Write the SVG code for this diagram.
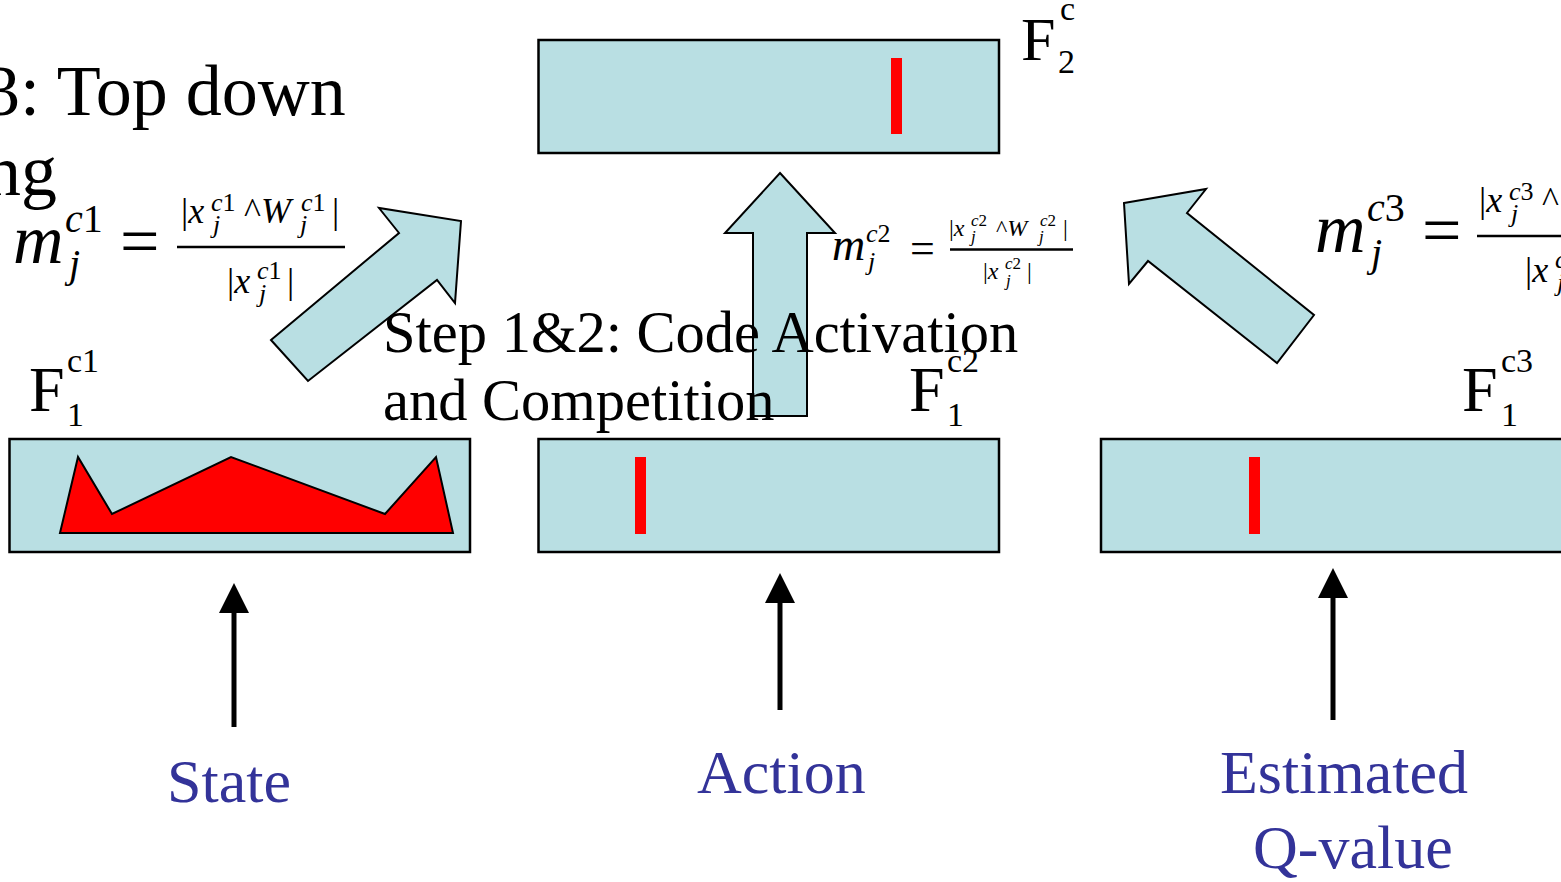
<svg xmlns="http://www.w3.org/2000/svg" width="1561" height="882" viewBox="0 0 1561 882">
  <defs>
    <style>
      .t { font-family: "Liberation Serif", "Times New Roman", serif; fill: #000; }
      .i { font-style: italic; }
      .lbl { font-family: "Liberation Serif", "Times New Roman", serif; fill: #333399; font-size: 62px; }
      .layer { fill: #B9DFE3; stroke: #000; stroke-width: 2.5; }
      .code { fill: #FF0000; }
      .block { fill: #B9DFE3; stroke: #000; stroke-width: 2; stroke-linejoin: miter; }
      .feed { stroke: #000; stroke-width: 5; fill: none; }
      .bar { stroke: #000; stroke-width: 2.5; }
    </style>
    <marker id="head" markerUnits="userSpaceOnUse" markerWidth="32" markerHeight="32" refX="0" refY="15" orient="auto">
      <path d="M0,0 L30,15 L0,30 z" fill="#000"/>
    </marker>
  </defs>

  <rect width="1561" height="882" fill="#fff"/>

  <!-- slide heading, partly off the left edge -->
  <g id="heading">
    <text class="t" x="-16" y="115" font-size="72">3: Top down</text>
    <text class="t" x="57" y="195" font-size="72" text-anchor="end">ng</text>
  </g>

  <!-- F2 category layer -->
  <g id="f2">
    <rect class="layer" x="538.5" y="40" width="460.5" height="113"/>
    <rect class="code" x="891" y="58" width="11" height="76"/>
    <text class="t" x="1021" y="60" font-size="62">F</text>
    <text class="t" x="1060" y="20" font-size="34">c</text>
    <text class="t" x="1058" y="73" font-size="34">2</text>
  </g>

  <!-- F1 state field -->
  <g id="f1c1">
    <rect class="layer" x="9.5" y="439" width="460.5" height="113"/>
    <polygon points="60,533 78,457 112,514 231,457 385,514 436,457 453,533" fill="#FF0000" stroke="#000" stroke-width="2"/>
    <text class="t" x="29" y="411" font-size="64">F</text>
    <text class="t" x="67" y="372" font-size="34">c1</text>
    <text class="t" x="67" y="426" font-size="34">1</text>
  </g>

  <!-- F1 action field -->
  <g id="f1c2">
    <rect class="layer" x="538.5" y="439" width="460.5" height="113"/>
    <rect class="code" x="635" y="457" width="11" height="77"/>
    <text class="t" x="909" y="411" font-size="64">F</text>
    <text class="t" x="947" y="372" font-size="34">c2</text>
    <text class="t" x="947" y="426" font-size="34">1</text>
  </g>

  <!-- F1 reward field -->
  <g id="f1c3">
    <rect class="layer" x="1101" y="439" width="470" height="113"/>
    <rect class="code" x="1249" y="457" width="11" height="77"/>
    <text class="t" x="1462" y="411" font-size="64">F</text>
    <text class="t" x="1501" y="372" font-size="34">c3</text>
    <text class="t" x="1501" y="426" font-size="34">1</text>
  </g>

  <!-- bottom-up activation arrows and input arrows -->
  <g id="connectors">
    <polygon class="block" points="271,340 399,233 379,208 461,221 455,303 437,280 308,381"/>
    <polygon class="block" points="780,173 835,233 807,233 807,416 753,416 753,233 725,233"/>
    <polygon class="block" points="1124,203 1206,189 1187,213 1314,315 1277,363 1148,261 1129,284"/>
    <path class="feed" d="M234,727 V613" marker-end="url(#head)"/>
    <path class="feed" d="M780,710 V603" marker-end="url(#head)"/>
    <path class="feed" d="M1333,720 V598" marker-end="url(#head)"/>
  </g>

  <!-- choice functions -->
  <g id="eq-c1" class="t">
    <text class="i" x="13" y="263" font-size="70">m</text>
    <text x="65" y="232" font-size="40"><tspan class="i">c</tspan>1</text>
    <text class="i" x="69" y="277" font-size="40">j</text>
    <text x="120" y="265" font-size="70">=</text>
    <line class="bar" x1="177" y1="247" x2="345" y2="247"/>
    <text x="181" y="223" font-size="36">|<tspan class="i">x</tspan></text>
    <text x="211" y="211" font-size="26"><tspan class="i">c</tspan>1</text>
    <text class="i" x="213" y="233" font-size="26">j</text>
    <text x="244" y="223" font-size="36">^<tspan class="i">W</tspan></text>
    <text x="301" y="211" font-size="26"><tspan class="i">c</tspan>1</text>
    <text class="i" x="300" y="233" font-size="26">j</text>
    <text x="332" y="223" font-size="36">|</text>
    <text x="227" y="293" font-size="36">|<tspan class="i">x</tspan></text>
    <text x="257" y="279" font-size="26"><tspan class="i">c</tspan>1</text>
    <text class="i" x="259" y="302" font-size="26">j</text>
    <text x="287" y="293" font-size="36">|</text>
  </g>

  <g id="eq-c2" class="t">
    <text class="i" x="832" y="260" font-size="46">m</text>
    <text x="866" y="242" font-size="26"><tspan class="i">c</tspan>2</text>
    <text class="i" x="868" y="270" font-size="26">j</text>
    <text x="910" y="263" font-size="44">=</text>
    <line class="bar" x1="950" y1="249.5" x2="1073" y2="249.5"/>
    <text x="949" y="236" font-size="24">|<tspan class="i">x</tspan></text>
    <text x="971" y="226" font-size="17"><tspan class="i">c</tspan>2</text>
    <text class="i" x="971" y="242" font-size="17">j</text>
    <text x="996" y="236" font-size="24">^<tspan class="i">W</tspan></text>
    <text x="1040" y="226" font-size="17"><tspan class="i">c</tspan>2</text>
    <text class="i" x="1039" y="242" font-size="17">j</text>
    <text x="1063" y="236" font-size="24">|</text>
    <text x="983" y="279" font-size="24">|<tspan class="i">x</tspan></text>
    <text x="1005" y="269" font-size="17"><tspan class="i">c</tspan>2</text>
    <text class="i" x="1006" y="286" font-size="17">j</text>
    <text x="1027" y="279" font-size="24">|</text>
  </g>

  <g id="eq-c3" class="t" transform="translate(1302,-11)">
    <text class="i" x="13" y="263" font-size="70">m</text>
    <text x="65" y="232" font-size="40"><tspan class="i">c</tspan>3</text>
    <text class="i" x="69" y="277" font-size="40">j</text>
    <text x="120" y="265" font-size="70">=</text>
    <line class="bar" x1="175" y1="247" x2="300" y2="247"/>
    <text x="177" y="223" font-size="36">|<tspan class="i">x</tspan></text>
    <text x="207" y="211" font-size="26"><tspan class="i">c</tspan>3</text>
    <text class="i" x="209" y="233" font-size="26">j</text>
    <text x="240" y="223" font-size="36">^</text>
    <text x="223" y="293" font-size="36">|<tspan class="i">x</tspan></text>
    <text x="253" y="279" font-size="26"><tspan class="i">c</tspan></text>
    <text class="i" x="255" y="302" font-size="26">j</text>
  </g>

  <!-- step caption drawn over the arrows -->
  <g id="caption">
    <text class="t" x="383" y="352" font-size="58.5">Step 1&amp;2: Code Activation</text>
    <text class="t" x="383" y="420" font-size="58.5">and Competition</text>
  </g>

  <!-- input labels -->
  <g id="inputs">
    <text class="lbl" x="167" y="802">State</text>
    <text class="lbl" x="697" y="793">Action</text>
    <text class="lbl" x="1220" y="793" font-size="63">Estimated</text>
    <text class="lbl" x="1253" y="868" font-size="63">Q-value</text>
  </g>
</svg>
